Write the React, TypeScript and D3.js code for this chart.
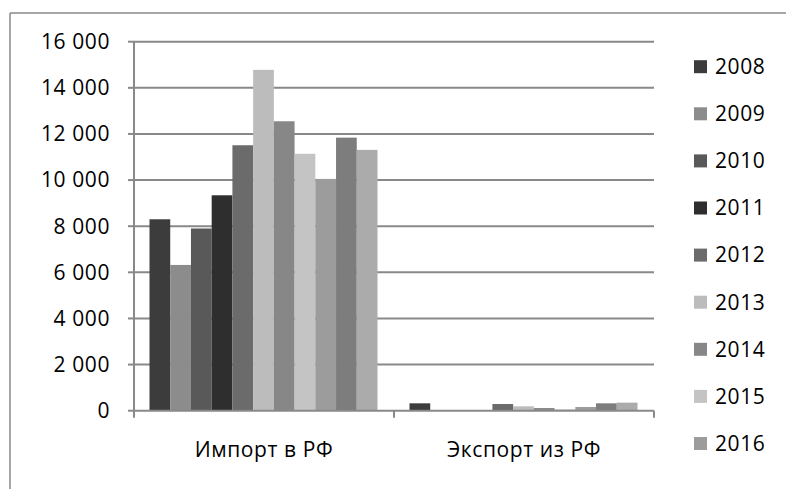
import React from "react";
import * as d3 from "d3";

const categories = ["Импорт в РФ", "Экспорт из РФ"];
const years = ["2008", "2009", "2010", "2011", "2012", "2013", "2014", "2015", "2016", "2017", "2018"];
const legendYears = ["2008", "2009", "2010", "2011", "2012", "2013", "2014", "2015", "2016"];
const importValues = [8300, 6320, 7900, 9340, 11510, 14780, 12550, 11140, 10050, 11840, 11310];
const exportValues = [320, 0, 0, 0, 290, 190, 115, 60, 160, 320, 350];
const colors = ["#3c3c3c", "#8c8c8c", "#595959", "#2e2e2e", "#6b6b6b", "#bcbcbc", "#878787", "#c4c4c4", "#9c9c9c", "#7d7d7d", "#ababab"];
const yTicks = [0, 2000, 4000, 6000, 8000, 10000, 12000, 14000, 16000];

const seriesByCategory = [importValues, exportValues];

const fmt = (v: number) => d3.format(",")(v).replace(/,/g, " ");

export default function App() {
  const W = 786, H = 489;
  const x0 = d3.scaleBand<string>().domain(categories).range([134, 654]).paddingInner(0).paddingOuter(0);
  const x1 = d3.scaleBand<string>().domain(years).range([15.5, 243.5]).padding(0);
  const y = d3.scaleLinear().domain([0, 16000]).range([410.7, 41.7]);
  const font = "'Open Sans', sans-serif";
  const fs = 21;
  const ls = 0.6;
  const gridColor = "#898989";

  return (
    <svg width={W} height={H} style={{ position: "absolute", left: 0, top: 0, background: "#fff" }}>
      {/* frame */}
      <line x1={10} y1={13} x2={W} y2={13} stroke="#888" strokeWidth={1.5} />
      <line x1={10} y1={13} x2={10} y2={H} stroke="#888" strokeWidth={1.5} />
      {/* gridlines */}
      {yTicks.filter(t => t > 0).map(t => (
        <line key={"g" + t} x1={134} x2={654} y1={y(t)} y2={y(t)} stroke={gridColor} strokeWidth={2} />
      ))}
      {/* bars */}
      {categories.map((c, ci) => (
        <g key={c} transform={`translate(${x0(c)},0)`}>
          {years.map((yr, i) => {
            const v = seriesByCategory[ci][i];
            return (
              <rect key={yr} x={x1(yr)} width={x1.bandwidth()} y={y(v)} height={y(0) - y(v)} fill={colors[i]} />
            );
          })}
        </g>
      ))}
      {/* y axis */}
      <line x1={134} x2={134} y1={y(16000)} y2={y(0)} stroke={gridColor} strokeWidth={2} />
      {yTicks.map(t => (
        <g key={"t" + t}>
          <line x1={128} x2={134} y1={y(t)} y2={y(t)} stroke={gridColor} strokeWidth={2} />
          <text x={110} y={y(t)} dy="0.35em" textAnchor="end" fontFamily={font} fontSize={fs} letterSpacing={ls} fill="#000">
            {fmt(t)}
          </text>
        </g>
      ))}
      {/* x axis */}
      <line x1={134} x2={654} y1={y(0)} y2={y(0)} stroke={gridColor} strokeWidth={2} />
      {[...categories.map(c => x0(c) as number), 654].map((xx, i) => (
        <line key={"xt" + i} x1={xx} x2={xx} y1={y(0)} y2={y(0) + 7} stroke={gridColor} strokeWidth={2} />
      ))}
      {categories.map(c => (
        <text key={"cl" + c} x={(x0(c) as number) + x0.bandwidth() / 2} y={450} dy="0.35em" textAnchor="middle" fontFamily={font} fontSize={fs} letterSpacing={ls} fill="#000">
          {c}
        </text>
      ))}
      {/* legend */}
      {legendYears.map((yr, i) => {
        const cy = 66.7 + i * 47.1;
        return (
          <g key={"l" + yr}>
            <rect x={694} y={cy - 6.5} width={13} height={13} fill={colors[i]} />
            <text x={715} y={cy} dy="0.35em" fontFamily={font} fontSize={fs} letterSpacing={ls} fill="#000">{yr}</text>
          </g>
        );
      })}
    </svg>
  );
}
